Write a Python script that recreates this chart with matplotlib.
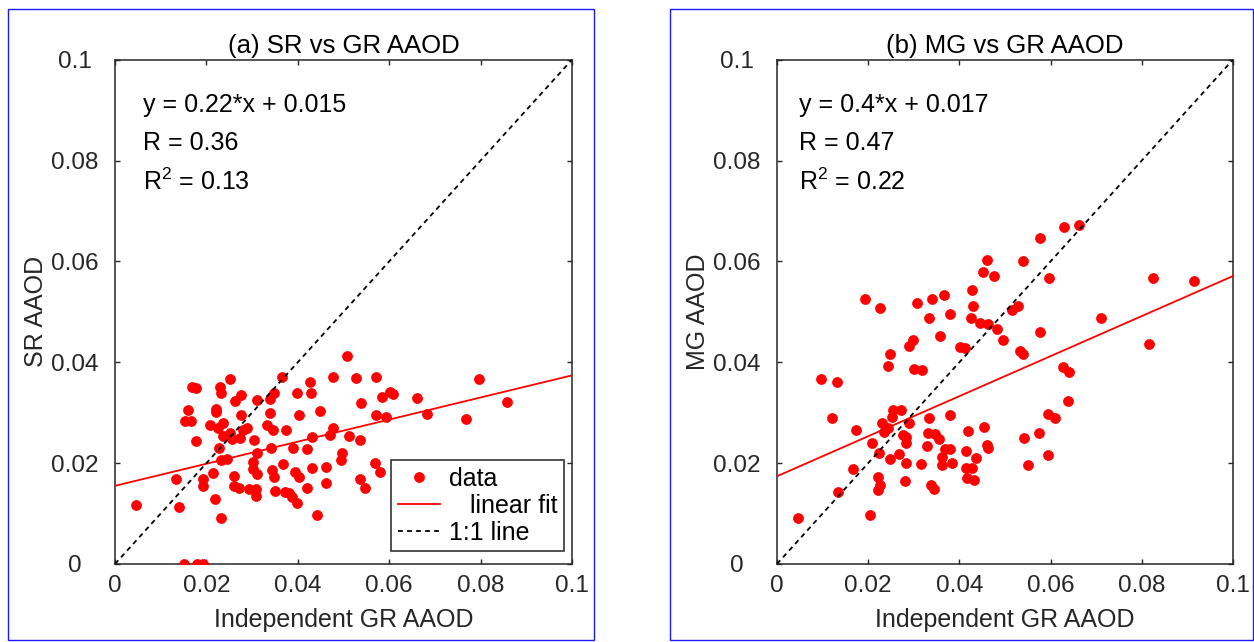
import matplotlib.pyplot as plt
from matplotlib.patches import Rectangle

plt.rcParams['font.family'] = ['Liberation Sans', 'DejaVu Sans']
plt.rcParams['mathtext.fontset'] = 'custom'
plt.rcParams['mathtext.rm'] = 'Liberation Sans'
plt.rcParams['mathtext.it'] = 'Liberation Sans:italic'

# (a) SR vs GR
a_gr = [0.0045, 0.0139, 0.0133, 0.0150, 0.0180, 0.0193, 0.0168, 0.0177, 0.0160, 0.0153,
        0.0166, 0.0177, 0.0193, 0.0192, 0.0214, 0.0218, 0.0233, 0.0230, 0.0233, 0.0252,
        0.0222, 0.0222, 0.0208, 0.0226, 0.0236, 0.0236, 0.0252, 0.0255, 0.0227, 0.0231,
        0.0245, 0.0263, 0.0276, 0.0276, 0.0281, 0.0288, 0.0274, 0.0260, 0.0260, 0.0271,
        0.0311, 0.0304, 0.0310, 0.0303, 0.0301, 0.0310, 0.0294, 0.0308, 0.0308, 0.0339,
        0.0348, 0.0365, 0.0339, 0.0333, 0.0346, 0.0342, 0.0343, 0.0348, 0.0351, 0.0367,
        0.0373, 0.0381, 0.0387, 0.0398, 0.0374, 0.0398, 0.0403, 0.0390, 0.0394, 0.0403,
        0.0420, 0.0421, 0.0427, 0.0428, 0.0432, 0.0432, 0.0442, 0.0449, 0.0461, 0.0462,
        0.0470, 0.0478, 0.0478, 0.0494, 0.0497, 0.0507, 0.0513,
        0.0527, 0.0572, 0.0538, 0.0585, 0.0602, 0.0609, 0.0572, 0.0592, 0.0662, 0.0682,
        0.0768, 0.0797, 0.0857, 0.0536, 0.0536, 0.0548, 0.0569, 0.0580]
a_sr = [0.0117, 0.0114, 0.0168, 0.0, 0.0, 0.0, 0.0351, 0.0349, 0.0305, 0.0284,
        0.0284, 0.0244, 0.0168, 0.0154, 0.0180, 0.0129, 0.0092, 0.0351, 0.0339, 0.0366,
        0.0308, 0.0301, 0.0275, 0.0269, 0.0279, 0.0254, 0.0259, 0.0248, 0.0231, 0.0207,
        0.0208, 0.0323, 0.0335, 0.0295, 0.0265, 0.0269, 0.0249, 0.0175, 0.0154, 0.0150,
        0.0325, 0.0245, 0.0220, 0.0203, 0.0188, 0.0179, 0.0149, 0.0149, 0.0135, 0.0327,
        0.0339, 0.0370, 0.0299, 0.0276, 0.0265, 0.0230, 0.0186, 0.0172, 0.0145, 0.0199,
        0.0142, 0.0141, 0.0132, 0.0120, 0.0266, 0.0339, 0.0295, 0.0230, 0.0182, 0.0172,
        0.0151, 0.0228, 0.0360, 0.0340, 0.0251, 0.0191, 0.0098, 0.0304, 0.0193, 0.0161,
        0.0255, 0.0269, 0.0370, 0.0207, 0.0221, 0.0412, 0.0254,
        0.0368, 0.0370, 0.0320, 0.0332, 0.0341, 0.0337, 0.0296, 0.0292, 0.0330, 0.0298,
        0.0287, 0.0366, 0.0321, 0.0245, 0.0168, 0.0150, 0.0201, 0.0182]

# (b) MG vs GR
b_gr = [0.0096, 0.0132, 0.0194, 0.0227, 0.0248, 0.0244, 0.0289, 0.0299, 0.0300, 0.0317,
        0.0306, 0.0341, 0.0367, 0.0333, 0.0379, 0.0357, 0.0402, 0.0412, 0.0427, 0.0431,
        0.0425, 0.0446, 0.0463, 0.0482, 0.0460, 0.0451, 0.0477,
        0.0495, 0.0539, 0.0577, 0.0629, 0.0662, 0.0597, 0.0516, 0.0529, 0.0577, 0.0534,
        0.0540, 0.0711, 0.0825, 0.0914, 0.0816, 0.0628, 0.0641, 0.0639, 0.0595, 0.0610,
        0.0575, 0.0541, 0.0594, 0.0551,
        0.0121, 0.0173, 0.0167, 0.0134, 0.0046, 0.0204, 0.0209, 0.0224, 0.0230, 0.0235,
        0.0244, 0.0248, 0.0221, 0.0226, 0.0221, 0.0255, 0.0273, 0.0252, 0.0290, 0.0276,
        0.0284, 0.0284, 0.0268, 0.0283, 0.0281, 0.0333, 0.0379, 0.0332, 0.0346, 0.0356,
        0.0328, 0.0368, 0.0379, 0.0363, 0.0361, 0.0383, 0.0315, 0.0338, 0.0344, 0.0420,
        0.0414, 0.0436, 0.0414, 0.0428, 0.0416, 0.0432, 0.0453, 0.0460, 0.0463]
b_mg = [0.0366, 0.0360, 0.0526, 0.0508, 0.0416, 0.0392, 0.0432, 0.0444, 0.0386, 0.0384,
        0.0518, 0.0526, 0.0534, 0.0487, 0.0496, 0.0453, 0.0430, 0.0428, 0.0543, 0.0511,
        0.0487, 0.0478, 0.0475, 0.0466, 0.0603, 0.0580, 0.0572,
        0.0444, 0.0600, 0.0646, 0.0668, 0.0672, 0.0567, 0.0504, 0.0511, 0.0461, 0.0422,
        0.0416, 0.0487, 0.0568, 0.0562, 0.0437, 0.0391, 0.0380, 0.0323, 0.0298, 0.0290,
        0.0259, 0.0250, 0.0216, 0.0196,
        0.0290, 0.0265, 0.0188, 0.0143, 0.0092, 0.0097, 0.0240, 0.0221, 0.0280, 0.0262,
        0.0269, 0.0208, 0.0172, 0.0156, 0.0146, 0.0306, 0.0306, 0.0292, 0.0279, 0.0255,
        0.0252, 0.0239, 0.0219, 0.0200, 0.0165, 0.0289, 0.0295, 0.0260, 0.0257, 0.0248,
        0.0234, 0.0229, 0.0228, 0.0212, 0.0196, 0.0201, 0.0199, 0.0156, 0.0148, 0.0264,
        0.0224, 0.0210, 0.0191, 0.0191, 0.0170, 0.0166, 0.0271, 0.0235, 0.0230]

# fit coefficients (slope, intercept) and stats text
fit_a = (0.219, 0.0155)
fit_b = (0.397, 0.0174)
text_a = ['y = 0.22*x + 0.015', 'R = 0.36', 'R$^2$ = 0.13']
text_b = ['y = 0.4*x + 0.017', 'R = 0.47', 'R$^2$ = 0.22']

ticks = [0, 0.02, 0.04, 0.06, 0.08, 0.1]
tick_labels = ['0', '0.02', '0.04', '0.06', '0.08', '0.1']
dark = '#262626'

fig = plt.figure(figsize=(12.54, 6.42), dpi=100)

# blue panel frames
fig.add_artist(Rectangle((0.0064, 0.003), 0.4673, 0.983, transform=fig.transFigure,
                         fill=False, edgecolor='#1a1aff', lw=1.0))
fig.add_artist(Rectangle((0.5343, 0.003), 0.465, 0.983, transform=fig.transFigure,
                         fill=False, edgecolor='#1a1aff', lw=1.0))

ax1 = fig.add_axes([0.0917, 0.1215, 0.3644, 0.7855])
ax2 = fig.add_axes([0.6196, 0.1215, 0.3636, 0.7855])

panels = [(ax1, a_gr, a_sr, fit_a, text_a, '(a) SR vs GR AAOD', 'SR AAOD', 0.0061),
          (ax2, b_gr, b_mg, fit_b, text_b, '(b) MG vs GR AAOD', 'MG AAOD', 0.0048)]

for ax, xs, ys, fit, txt, title, ylab, tx in panels:
    ax.plot(xs, ys, 'o', color='red', ms=7.2, mec='red', mew=0.5, label='data', zorder=3)
    fx = [0, 0.1]
    fy = [fit[1], fit[0] * 0.1 + fit[1]]
    ax.plot(fx, fy, color='red', lw=1.3, label='   linear fit', zorder=4)
    ax.plot([0, 0.1], [0, 0.1], color='black', lw=1.3, dashes=(2.7, 2.3),
            label='1:1 line', zorder=4)

    ax.set_xlim(0, 0.1)
    ax.set_ylim(0, 0.1)
    ax.set_xticks(ticks)
    ax.set_xticklabels(tick_labels)
    ax.set_yticks(ticks)
    ax.set_yticklabels(tick_labels)
    ax.tick_params(direction='in', length=3.6, width=1.0, colors=dark, labelsize=17.5,
                   top=True, right=True)
    ax.tick_params(axis='x', pad=8)
    ax.tick_params(axis='y', pad=29)
    for lab in ax.get_yticklabels():
        lab.set_horizontalalignment('center')
    for sp in ax.spines.values():
        sp.set_linewidth(1.1)
        sp.set_color(dark)

    ax.set_title(title, fontsize=18.5, color='black', pad=5)
    ax.set_xlabel('Independent GR AAOD', fontsize=18, color=dark, labelpad=8)
    ax.set_ylabel(ylab, fontsize=18, color=dark, labelpad=2)

    for t, yy in zip(txt, [0.091, 0.0835, 0.0758]):
        ax.text(tx, yy, t, fontsize=18, color='black', ha='left', va='center')

leg = ax1.legend(loc='lower right', bbox_to_anchor=(0.982, 0.026), borderaxespad=0,
                 fontsize=18, frameon=True, fancybox=False, edgecolor='black',
                 handlelength=1.7, labelspacing=0.12, borderpad=0.25, handletextpad=0.35)
leg.get_frame().set_linewidth(1.2)
leg.set_zorder(10)

fig.savefig('out.png', dpi=100)
